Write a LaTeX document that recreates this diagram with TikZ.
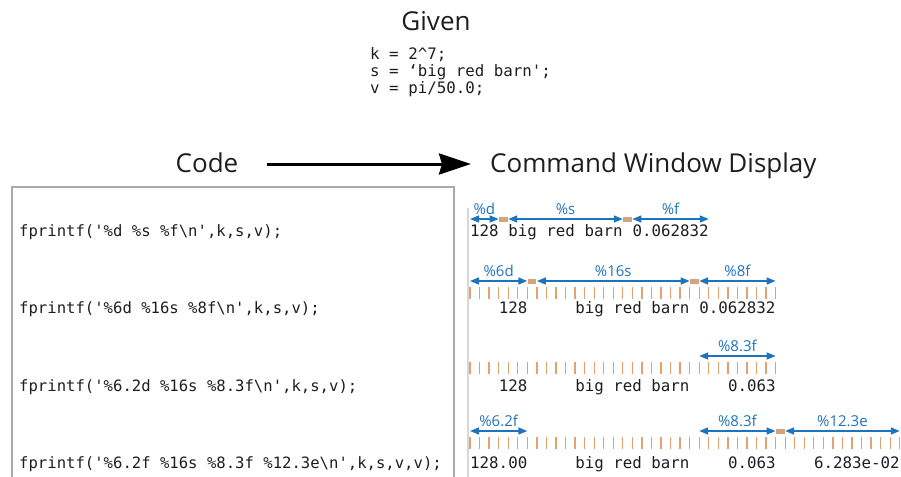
\documentclass[tikz,border=0pt]{standalone}
\usepackage{fontspec}
\setmainfont{Open Sans}
\setmonofont{DejaVu Sans Mono}
\usetikzlibrary{arrows.meta}
\definecolor{fblue}{RGB}{30,115,190}
\definecolor{tickc}{RGB}{228,160,112}
\definecolor{tanc}{RGB}{212,165,122}
\definecolor{boxc}{RGB}{170,170,170}
\definecolor{sepc}{RGB}{215,215,215}
\definecolor{txtc}{RGB}{30,30,30}
\def\cw{9.55}
\def\ox{470}
\begin{document}
\begin{tikzpicture}[x=1pt,y=-1pt,
  heading/.style={font=\fontsize{26}{30}\selectfont, text=txtc, inner sep=0pt, anchor=base},
  mono/.style={font=\ttfamily\fontsize{15.8}{18}\selectfont, text=txtc, inner sep=0pt, anchor=base west},
  codetxt/.style={font=\ttfamily\fontsize{15.6}{18}\selectfont, text=txtc, inner sep=0pt, anchor=base west},
  flabel/.style={font=\fontsize{15}{17}\selectfont, text=fblue, inner sep=0pt, anchor=base},
  farrow/.style={draw=fblue, line width=1.4pt, {Triangle[length=9pt,width=7pt]}-{Triangle[length=9pt,width=7pt]}},
  tickmark/.style={draw=tickc, line width=1.3pt},
  tanbox/.style={fill=tanc, draw=none},
  bigarrow/.style={draw=black, line width=3pt, -{Stealth[length=32pt,width=21pt,inset=3pt]}}
]
\useasboundingbox (0,0) rectangle (901,476);

% Given
\node[heading] (given) at (436,31) {Given};
\node[mono] (g1) at (370,60) {k = 2\textasciicircum 7;};
\node[mono] (g2) at (370,77) {s = ‘big red barn';};
\node[mono] (g3) at (370,94) {v = pi/50.0;};

% headings and arrow
\node[heading] (code) at (207,172) {Code};
\node[heading, anchor=base west] (cwd) at (490,172) {Command Window Display};
\draw[bigarrow] ([xshift=28pt,yshift=8pt]code.base east) -- ([xshift=-19pt,yshift=8pt]cwd.base west);

% code box
\draw[boxc, line width=1.3pt] (12,480) -- (12,187) -- (454,187) -- (454,480);
\draw[sepc, line width=1.2pt] (468,208) -- (468,480);

\node[codetxt] (c1) at (19,236) {fprintf('\%d \%s \%f\textbackslash n',k,s,v);};
\node[codetxt] (c2) at (19,313) {fprintf('\%6d \%16s \%8f\textbackslash n',k,s,v);};
\node[codetxt] (c3) at (19,391) {fprintf('\%6.2d \%16s \%8.3f\textbackslash n',k,s,v);};
\node[codetxt] (c4) at (19,468) {fprintf('\%6.2f \%16s \%8.3f \%12.3e\textbackslash n',k,s,v,v);};

% ticks
\foreach \i in {0,...,32} {
  \draw[tickmark] ({\ox+\i*\cw},287) -- ({\ox+\i*\cw},299);
  \draw[tickmark] ({\ox+\i*\cw},362) -- ({\ox+\i*\cw},374);
}
\foreach \i in {0,...,45} {
  \draw[tickmark] ({\ox+\i*\cw},437) -- ({\ox+\i*\cw},449);
}

% row 1
\foreach \a/\b/\t in {0/3/\%d, 4/16/\%s, 17/25/\%f} {
  \draw[farrow] ({\ox+\a*\cw},219) -- ({\ox+\b*\cw},219);
  \node[flabel] at ({\ox+(\a+\b)*\cw/2},214) {\t};
}
\foreach \i in {3,16} { \fill[tanbox] ({\ox+\i*\cw+0.6},216.5) rectangle ({\ox+(\i+1)*\cw-0.6},221.5); }
\node[mono] (r1a) at ({\ox+0*\cw},236) {128};
\node[mono] (r1b) at ({\ox+4*\cw},236) {big red barn};
\node[mono] (r1c) at ({\ox+17*\cw},236) {0.062832};

% row 2
\foreach \a/\b/\t in {0/6/\%6d, 7/23/\%16s, 24/32/\%8f} {
  \draw[farrow] ({\ox+\a*\cw},281) -- ({\ox+\b*\cw},281);
  \node[flabel] at ({\ox+(\a+\b)*\cw/2},276) {\t};
}
\foreach \i in {6,23} { \fill[tanbox] ({\ox+\i*\cw+0.6},278.5) rectangle ({\ox+(\i+1)*\cw-0.6},283.5); }
\node[mono] (r2a) at ({\ox+3*\cw},313) {128};
\node[mono] (r2b) at ({\ox+11*\cw},313) {big red barn};
\node[mono] (r2c) at ({\ox+24*\cw},313) {0.062832};

% row 3
\draw[farrow] ({\ox+24*\cw},356) -- ({\ox+32*\cw},356);
\node[flabel] at ({\ox+28*\cw},351) {\%8.3f};
\node[mono] (r3a) at ({\ox+3*\cw},391) {128};
\node[mono] (r3b) at ({\ox+11*\cw},391) {big red barn};
\node[mono] (r3c) at ({\ox+27*\cw},391) {0.063};

% row 4
\foreach \a/\b/\t in {0/6/\%6.2f, 24/32/\%8.3f, 33/45/\%12.3e} {
  \draw[farrow] ({\ox+\a*\cw},431) -- ({\ox+\b*\cw},431);
  \node[flabel] at ({\ox+(\a+\b)*\cw/2},426) {\t};
}
\fill[tanbox] ({\ox+32*\cw+0.6},428.5) rectangle ({\ox+33*\cw-0.6},433.5);
\node[mono] (r4a) at ({\ox+0*\cw},468) {128.00};
\node[mono] (r4b) at ({\ox+11*\cw},468) {big red barn};
\node[mono] (r4c) at ({\ox+27*\cw},468) {0.063};
\node[mono] (r4d) at ({\ox+36*\cw},468) {6.283e-02};
\end{tikzpicture}
\end{document}
